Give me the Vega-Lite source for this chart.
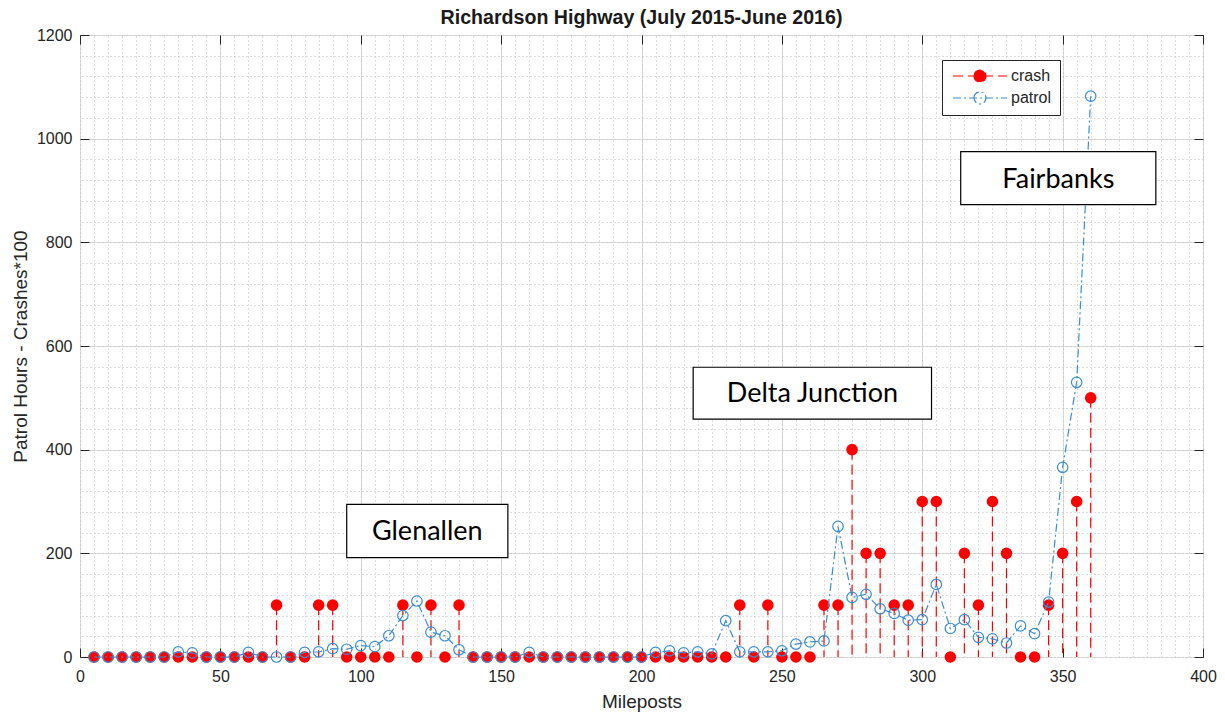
{
  "$schema": "https://vega.github.io/schema/vega-lite/v6.json",
  "width": 1123,
  "height": 622,
  "autosize": {"type": "none"},
  "padding": {"left": 80, "top": 35, "right": 22, "bottom": 56},
  "background": "white",
  "title": {"text": "Richardson Highway (July 2015-June 2016)", "font": "Liberation Sans", "fontSize": 19.6, "fontWeight": "bold", "color": "#1a1a1a", "anchor": "middle", "offset": -2},
  "datasets": {
    "highway": [
      {"mile": 5, "crash": 0, "patrol": 0},
      {"mile": 10, "crash": 0, "patrol": 0},
      {"mile": 15, "crash": 0, "patrol": 0},
      {"mile": 20, "crash": 0, "patrol": 0},
      {"mile": 25, "crash": 0, "patrol": 0},
      {"mile": 30, "crash": 0, "patrol": 0},
      {"mile": 35, "crash": 0, "patrol": 10},
      {"mile": 40, "crash": 0, "patrol": 8},
      {"mile": 45, "crash": 0, "patrol": 0},
      {"mile": 50, "crash": 0, "patrol": 0},
      {"mile": 55, "crash": 0, "patrol": 0},
      {"mile": 60, "crash": 0, "patrol": 9},
      {"mile": 65, "crash": 0, "patrol": 0},
      {"mile": 70, "crash": 100, "patrol": 0},
      {"mile": 75, "crash": 0, "patrol": 0},
      {"mile": 80, "crash": 0, "patrol": 9},
      {"mile": 85, "crash": 100, "patrol": 10},
      {"mile": 90, "crash": 100, "patrol": 16},
      {"mile": 95, "crash": 0, "patrol": 15},
      {"mile": 100, "crash": 0, "patrol": 22},
      {"mile": 105, "crash": 0, "patrol": 20},
      {"mile": 110, "crash": 0, "patrol": 41},
      {"mile": 115, "crash": 100, "patrol": 80},
      {"mile": 120, "crash": 0, "patrol": 108},
      {"mile": 125, "crash": 100, "patrol": 48},
      {"mile": 130, "crash": 0, "patrol": 41},
      {"mile": 135, "crash": 100, "patrol": 14},
      {"mile": 140, "crash": 0, "patrol": 0},
      {"mile": 145, "crash": 0, "patrol": 0},
      {"mile": 150, "crash": 0, "patrol": 0},
      {"mile": 155, "crash": 0, "patrol": 0},
      {"mile": 160, "crash": 0, "patrol": 9},
      {"mile": 165, "crash": 0, "patrol": 0},
      {"mile": 170, "crash": 0, "patrol": 0},
      {"mile": 175, "crash": 0, "patrol": 0},
      {"mile": 180, "crash": 0, "patrol": 0},
      {"mile": 185, "crash": 0, "patrol": 0},
      {"mile": 190, "crash": 0, "patrol": 0},
      {"mile": 195, "crash": 0, "patrol": 0},
      {"mile": 200, "crash": 0, "patrol": 0},
      {"mile": 205, "crash": 0, "patrol": 9},
      {"mile": 210, "crash": 0, "patrol": 12},
      {"mile": 215, "crash": 0, "patrol": 8},
      {"mile": 220, "crash": 0, "patrol": 10},
      {"mile": 225, "crash": 0, "patrol": 6},
      {"mile": 230, "crash": 0, "patrol": 70},
      {"mile": 235, "crash": 100, "patrol": 10},
      {"mile": 240, "crash": 0, "patrol": 10},
      {"mile": 245, "crash": 100, "patrol": 10},
      {"mile": 250, "crash": 0, "patrol": 12},
      {"mile": 255, "crash": 0, "patrol": 25},
      {"mile": 260, "crash": 0, "patrol": 29},
      {"mile": 265, "crash": 100, "patrol": 31},
      {"mile": 270, "crash": 100, "patrol": 252},
      {"mile": 275, "crash": 400, "patrol": 115},
      {"mile": 280, "crash": 200, "patrol": 121},
      {"mile": 285, "crash": 200, "patrol": 93},
      {"mile": 290, "crash": 100, "patrol": 84},
      {"mile": 295, "crash": 100, "patrol": 71},
      {"mile": 300, "crash": 300, "patrol": 72},
      {"mile": 305, "crash": 300, "patrol": 140},
      {"mile": 310, "crash": 0, "patrol": 55},
      {"mile": 315, "crash": 200, "patrol": 72},
      {"mile": 320, "crash": 100, "patrol": 38},
      {"mile": 325, "crash": 300, "patrol": 35},
      {"mile": 330, "crash": 200, "patrol": 27},
      {"mile": 335, "crash": 0, "patrol": 60},
      {"mile": 340, "crash": 0, "patrol": 45},
      {"mile": 345, "crash": 100, "patrol": 106},
      {"mile": 350, "crash": 200, "patrol": 366},
      {"mile": 355, "crash": 300, "patrol": 530},
      {"mile": 360, "crash": 500, "patrol": 1082}
    ],
    "towns": [
      {"town": "Glenallen", "mile": 123.7, "level": 243, "mile_from": 95.0, "mile_to": 152.4, "level_from": 191.6, "level_to": 294.6},
      {"town": "Delta Junction", "mile": 260.9, "level": 509, "mile_from": 218.4, "mile_to": 303.3, "level_from": 459, "level_to": 559},
      {"town": "Fairbanks", "mile": 348.5, "level": 923, "mile_from": 313.7, "mile_to": 383.2, "level_from": 872.7, "level_to": 975}
    ]
  },
  "config": {
    "font": "Liberation Sans",
    "view": {"stroke": "#262626", "strokeWidth": 1},
    "axis": {"domain": false, "labelColor": "#262626", "titleColor": "#262626", "labelFontSize": 16, "titleFontSize": 19, "titleFontWeight": "normal", "tickColor": "#262626"},
    "legend": {
      "orient": "none", "legendX": 862, "legendY": 25,
      "fillColor": "white", "strokeColor": "#262626", "padding": 8,
      "symbolType": "M-4.5,0L4.5,0M-1,0A1,1 0 1,1 1,0A1,1 0 1,1 -1,0Z",
      "symbolSize": 144, "symbolStrokeWidth": 1.2, "symbolOffset": 22,
      "labelOffset": 23, "labelFontSize": 16, "labelColor": "#262626", "rowPadding": 4
    }
  },
  "layer": [
    {
      "data": {"name": "highway"},
      "mark": {"type": "point", "shape": "circle", "filled": true, "size": 135, "opacity": 1, "strokeWidth": 0},
      "encoding": {
        "x": {"field": "mile", "type": "quantitative", "scale": {"domain": [0, 400], "nice": false},
          "axis": {"orient": "bottom", "values": [0, 50, 100, 150, 200, 250, 300, 350, 400], "grid": true, "gridColor": "#dcdcdc", "gridWidth": 1, "ticks": false, "labelPadding": 11, "title": "Mileposts", "titlePadding": 8, "labelFlush": false, "format": "d"}},
        "y": {"field": "crash", "type": "quantitative", "scale": {"domain": [0, 1200], "nice": false},
          "axis": {"orient": "left", "values": [0, 200, 400, 600, 800, 1000, 1200], "grid": true, "gridColor": "#dcdcdc", "gridWidth": 1, "ticks": false, "labelPadding": 8, "title": "Patrol Hours - Crashes*100", "titlePadding": 6, "labelFlush": false, "format": "d"}},
        "fill": {"datum": "crash", "type": "nominal", "scale": {"domain": ["crash", "patrol"], "range": ["#ff0000", "transparent"]}, "legend": {"title": null}}
      }
    },
    {
      "data": {"name": "highway"},
      "mark": {"type": "rule", "strokeWidth": 1.2},
      "encoding": {
        "x": {"field": "mile", "type": "quantitative", "axis": {"orient": "bottom", "values": [0, 50, 100, 150, 200, 250, 300, 350, 400], "grid": false, "labels": false, "ticks": true, "tickSize": -9, "title": null}},
        "y": {"field": "crash", "type": "quantitative", "axis": {"orient": "left", "values": [0, 200, 400, 600, 800, 1000, 1200], "grid": false, "labels": false, "ticks": true, "tickSize": -9, "title": null}},
        "y2": {"datum": 0},
        "stroke": {"datum": "crash", "type": "nominal", "scale": {"domain": ["crash", "patrol"], "range": ["#ff0000", "#3c8cd2"]}, "legend": {"title": null}},
        "strokeDash": {"datum": "crash", "type": "nominal", "scale": {"domain": ["crash", "patrol"], "range": [[10, 5], [8, 3, 2, 3]]}, "legend": {"title": null}}
      }
    },
    {
      "data": {"name": "highway"},
      "mark": {"type": "line", "strokeWidth": 1.2},
      "encoding": {
        "x": {"field": "mile", "type": "quantitative", "axis": {"orient": "top", "values": [0,5,10,15,20,25,30,35,40,45,50,55,60,65,70,75,80,85,90,95,100,105,110,115,120,125,130,135,140,145,150,155,160,165,170,175,180,185,190,195,200,205,210,215,220,225,230,235,240,245,250,255,260,265,270,275,280,285,290,295,300,305,310,315,320,325,330,335,340,345,350,355,360,365,370,375,380,385,390,395,400], "grid": true, "gridColor": "#bdbdbd", "gridDash": [1, 3], "gridWidth": 1, "labels": false, "ticks": false, "title": null}},
        "y": {"field": "patrol", "type": "quantitative", "axis": {"orient": "right", "values": [0,40,80,120,160,200,240,280,320,360,400,440,480,520,560,600,640,680,720,760,800,840,880,920,960,1000,1040,1080,1120,1160,1200], "grid": true, "gridColor": "#bdbdbd", "gridDash": [1, 3], "gridWidth": 1, "labels": false, "ticks": false, "title": null}},
        "stroke": {"datum": "patrol", "type": "nominal"},
        "strokeDash": {"datum": "patrol", "type": "nominal"}
      }
    },
    {
      "data": {"name": "highway"},
      "mark": {"type": "point", "shape": "circle", "filled": false, "size": 110, "strokeWidth": 1.2, "opacity": 1},
      "encoding": {
        "x": {"field": "mile", "type": "quantitative", "axis": {"orient": "top", "values": [0, 50, 100, 150, 200, 250, 300, 350, 400], "grid": false, "labels": false, "ticks": true, "tickSize": -9, "title": null}},
        "y": {"field": "patrol", "type": "quantitative", "axis": {"orient": "right", "values": [0, 200, 400, 600, 800, 1000, 1200], "grid": false, "labels": false, "ticks": true, "tickSize": -9, "title": null}},
        "stroke": {"datum": "patrol", "type": "nominal"}
      }
    },
    {
      "data": {"name": "towns"},
      "mark": {"type": "rect", "fill": "white", "stroke": "#000000", "strokeWidth": 1.2},
      "encoding": {
        "x": {"field": "mile_from", "type": "quantitative", "axis": null},
        "x2": {"field": "mile_to"},
        "y": {"field": "level_from", "type": "quantitative", "axis": null},
        "y2": {"field": "level_to"}
      }
    },
    {
      "data": {"name": "towns"},
      "mark": {"type": "text", "font": "Lato", "fontSize": 27, "color": "#000000", "align": "center", "baseline": "middle", "dy": 1},
      "encoding": {
        "x": {"field": "mile", "type": "quantitative", "axis": null},
        "y": {"field": "level", "type": "quantitative", "axis": null},
        "text": {"field": "town"}
      }
    }
  ]
}
